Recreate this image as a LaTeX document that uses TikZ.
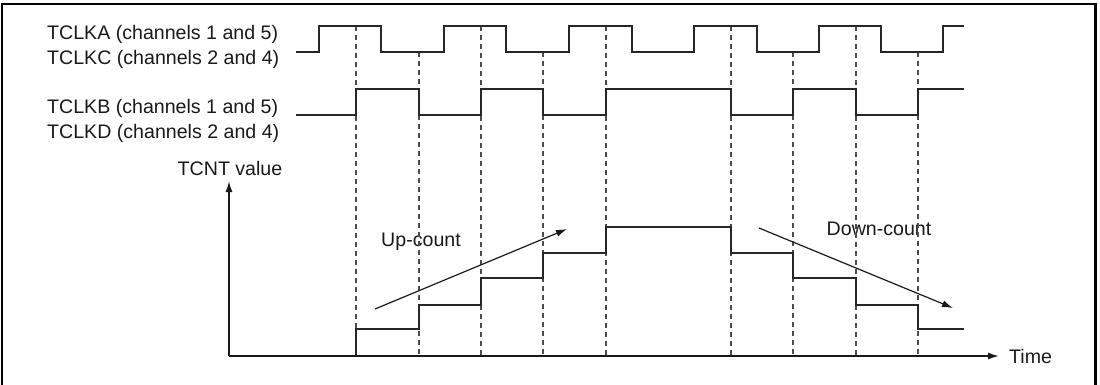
\documentclass[tikz,border=0pt]{standalone}
\usepackage{fontspec}
\setmainfont{Liberation Sans}
\usetikzlibrary{arrows.meta}
\begin{document}
\begin{tikzpicture}[x=1pt,y=-1pt,
  wave/.style={draw=black!85, line width=1.5pt, line join=miter},
  guide/.style={draw=black!70, line width=1.1pt, dash pattern=on 5pt off 4pt},
  lbl/.style={inner sep=0pt, font=\fontsize{19.6}{24}\selectfont, text=black!90},
  tip/.style={-{Latex[length=11pt,width=7pt]}, draw=black!90, line width=1.2pt},
  frame/.style={draw=black, line width=2.6pt}]
\useasboundingbox (0,0) rectangle (1100,384);
\clip (0,0) rectangle (1100,384);
% frame
\draw[frame] (2,420) -- (2,4) -- (1095.5,4) -- (1095.5,420);
% labels
\node[lbl, anchor=base west] (la) at (47,39) {TCLKA (channels 1 and 5)};
\node[lbl, anchor=base west] (lc) at (47,64) {TCLKC (channels 2 and 4)};
\node[lbl, anchor=base west] (lb) at (47,113) {TCLKB (channels 1 and 5)};
\node[lbl, anchor=base west] (ld) at (47,138) {TCLKD (channels 2 and 4)};
\node[lbl, anchor=base] (ly) at (230,175) {TCNT value};
\node[lbl, anchor=base west] (lt) at (1009,363) {Time};
\node[lbl, anchor=base] (lu) at (421,246) {Up-count};
\node[lbl, anchor=base] (ldn) at (879,235) {Down-count};
% guides
\foreach \x/\y in {356/26,419/52,481/26,543/52,606/26,731/26,793/52,856/26,918/52}
  \draw[guide] (\x,\y) -- (\x,356);
% TCLKA
\draw[wave] (296,52) -- (319,52) -- (319,26) -- (381,26) -- (381,52) -- (444,52) -- (444,26)
  -- (506,26) -- (506,52) -- (569,52) -- (569,26) -- (632,26) -- (632,52) -- (694,52)
  -- (694,26) -- (757,26) -- (757,52) -- (819,52) -- (819,26) -- (881,26) -- (881,52)
  -- (943,52) -- (943,26) -- (964,26);
% TCLKB
\draw[wave] (296,115) -- (356,115) -- (356,89) -- (419,89) -- (419,115) -- (481,115)
  -- (481,89) -- (543,89) -- (543,115) -- (606,115) -- (606,89) -- (731,89) -- (731,115)
  -- (793,115) -- (793,89) -- (856,89) -- (856,115) -- (918,115) -- (918,89) -- (964,89);
% counter
\draw[wave] (356,356) -- (356,329) -- (419,329) -- (419,305) -- (481,305) -- (481,278)
  -- (543,278) -- (543,253) -- (606,253) -- (606,227) -- (731,227) -- (731,253)
  -- (793,253) -- (793,278) -- (856,278) -- (856,305) -- (918,305) -- (918,329) -- (964,329);
% axes
\coordinate (o) at (229,356);
\coordinate (ytop) at (229,181);
\coordinate (xend) at (999,356);
\draw[tip, line width=1.5pt] (o) -- (ytop);
\draw[tip, line width=1.5pt] (o) -- (xend);
% count arrows
\coordinate (u0) at (375,309);
\coordinate (u1) at (567,229);
\coordinate (d0) at (759,228);
\coordinate (d1) at (953,308);
\draw[tip] (u0) -- (u1);
\draw[tip] (d0) -- (d1);
\end{tikzpicture}
\end{document}
